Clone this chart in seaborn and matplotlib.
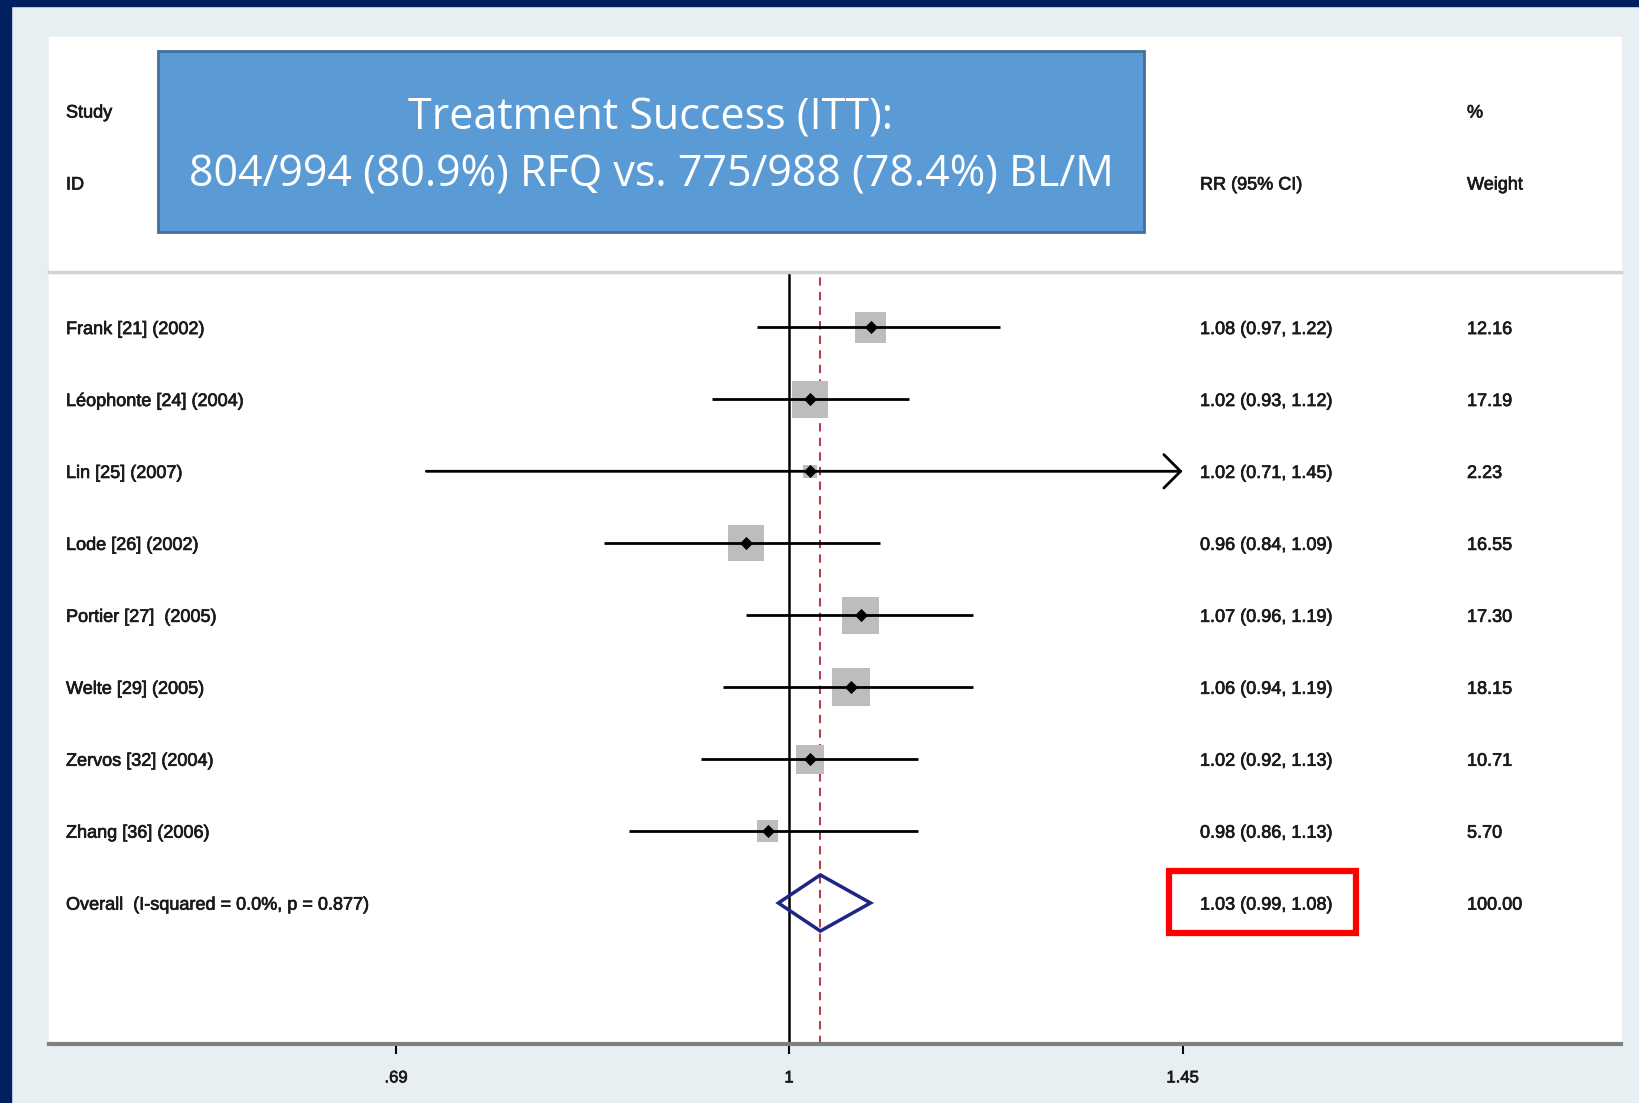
import numpy as np
import pandas as pd
import matplotlib
matplotlib.use("Agg")
import matplotlib.pyplot as plt
import matplotlib.patheffects as pe
import seaborn as sns
from matplotlib.patches import Rectangle, Polygon
from matplotlib.ticker import NullLocator
from matplotlib.transforms import blended_transform_factory

# ---- data -------------------------------------------------------------
studies = ["Frank [21] (2002)", "Léophonte [24] (2004)", "Lin [25] (2007)",
           "Lode [26] (2002)", "Portier [27]  (2005)", "Welte [29] (2005)",
           "Zervos [32] (2004)", "Zhang [36] (2006)"]
rr = [1.08, 1.02, 1.02, 0.96, 1.07, 1.06, 1.02, 0.98]
ci_low = [0.97, 0.93, 0.71, 0.84, 0.96, 0.94, 0.92, 0.86]
ci_high = [1.22, 1.12, 1.45, 1.09, 1.19, 1.19, 1.13, 1.13]
weights = [12.16, 17.19, 2.23, 16.55, 17.30, 18.15, 10.71, 5.70]

overall_label = "Overall  (I-squared = 0.0%, p = 0.877)"
overall_rr = 1.03
overall_low = 0.99
overall_high = 1.08
overall_weight = 100.00

xticks = [0.69, 1, 1.45]
xtick_labels = [".69", "1", "1.45"]

title_lines = ["Treatment Success (ITT):",
               "804/994 (80.9%) RFQ vs. 775/988 (78.4%) BL/M"]

# ---- style ------------------------------------------------------------
sns.set_style("white")
plt.rcParams["font.family"] = ["Liberation Sans", "DejaVu Sans"]

W, H = 1640, 1103
fig = plt.figure(figsize=(W / 100, H / 100), dpi=100)
fig.patch.set_facecolor("#E8EFF2")


def fx(px):
    return px / W


def fy(py):
    return 1 - py / H


# slide frame and white plotting panel
fig.add_artist(Rectangle((0, 0), fx(11), 1, transform=fig.transFigure,
                         color="#002060", zorder=0))
fig.add_artist(Rectangle((0, fy(6)), 1, 6 / H, transform=fig.transFigure,
                         color="#002060", zorder=0))
fig.add_artist(Rectangle((fx(49), fy(1044)), fx(1621) - fx(49), (1044 - 37) / H,
                         transform=fig.transFigure, color="white", zorder=0))

# ---- forest axes ------------------------------------------------------
ax = fig.add_axes([fx(49), fy(1044), fx(1621) - fx(49), (1044 - 272) / H])
ax.patch.set_visible(False)
ax.set_xscale("log")
ax.set_xlim(0.4972, 2.1937)
ax.set_ylim(9.96, -0.77)

df = pd.DataFrame({"study": studies, "rr": rr, "lo": ci_low, "hi": ci_high,
                   "weight": weights, "row": np.arange(len(studies))})
x_max = 1.45

# weight boxes (area proportional to weight)
k = 40.5
sns.scatterplot(data=df, x="rr", y="row", size="weight",
                sizes=(k * min(weights), k * max(weights)), marker="s",
                color="#BDBDBD", linewidth=0, legend=False, ax=ax, zorder=2)

# confidence intervals
for _, r in df.iterrows():
    if r["hi"] >= x_max:
        ax.annotate("", xy=(x_max, r["row"]), xytext=(r["lo"], r["row"]),
                    arrowprops=dict(arrowstyle="->,head_length=0.6,head_width=0.6",
                                    lw=2, color="black", shrinkA=0, shrinkB=0,
                                    mutation_scale=20), zorder=3)
    else:
        ax.hlines(r["row"], r["lo"], r["hi"], color="black", lw=2, zorder=3)

# point estimates
sns.scatterplot(data=df, x="rr", y="row", marker="D", color="black", s=45,
                linewidth=0, legend=False, ax=ax, zorder=4)

# reference lines
ax.axvline(1, color="black", lw=1.8, zorder=1)
ax.axvline(overall_rr, color="#B5404A", lw=1.5, ls=(0, (4, 3)), zorder=1)

# pooled estimate diamond
orow = len(studies)
h = 0.39
ax.add_patch(Polygon([(overall_low, orow), (overall_rr, orow - h),
                      (overall_high, orow), (overall_rr, orow + h)],
                     closed=True, fill=False, edgecolor="#1F2586", lw=2.5, zorder=5))

# axes styling
for s in ["left", "right"]:
    ax.spines[s].set_visible(False)
ax.spines["top"].set_color("#D3D3D3")
ax.spines["top"].set_linewidth(2.5)
ax.spines["bottom"].set_color("#7F7F7F")
ax.spines["bottom"].set_linewidth(3)
ax.set_xticks(xticks)
ax.set_xticklabels(xtick_labels)
ax.xaxis.set_minor_locator(NullLocator())
ax.set_yticks([])
ax.tick_params(axis="x", direction="out", length=7, width=1.5, color="black",
               pad=12, labelsize=12, labelcolor="#1a1a1a", bottom=True)
ax.set_xlabel("")
ax.set_ylabel("")

# slightly heavier strokes for the small print
heavy = [pe.withStroke(linewidth=0.5, foreground="#1a1a1a")]
for lbl in ax.get_xticklabels():
    lbl.set_path_effects(heavy)

# ---- text columns -----------------------------------------------------
tcol = "#1a1a1a"
fs = 13
trans = blended_transform_factory(fig.transFigure, ax.transData)
kw = dict(transform=trans, ha="left", va="center", fontsize=fs, color=tcol,
          path_effects=heavy)
for i, r in df.iterrows():
    ax.text(fx(66), r["row"] + 0.03, r["study"], **kw)
    ax.text(fx(1200), r["row"] + 0.03,
            f"{r['rr']:.2f} ({r['lo']:.2f}, {r['hi']:.2f})", **kw)
    ax.text(fx(1467), r["row"] + 0.03, f"{r['weight']:.2f}", **kw)
ax.text(fx(66), orow + 0.03, overall_label, **kw)
ax.text(fx(1200), orow + 0.03,
        f"{overall_rr:.2f} ({overall_low:.2f}, {overall_high:.2f})", **kw)
ax.text(fx(1467), orow + 0.03, f"{overall_weight:.2f}", **kw)

# column headers
hkw = dict(ha="left", va="center", fontsize=fs, color=tcol, path_effects=heavy)
fig.text(fx(66), fy(113), "Study", **hkw)
fig.text(fx(66), fy(185), "ID", **hkw)
fig.text(fx(1200), fy(185), "RR (95% CI)", **hkw)
fig.text(fx(1467), fy(113), "%", **hkw)
fig.text(fx(1467), fy(185), "Weight", **hkw)

# highlight around the pooled estimate
fig.add_artist(Rectangle((fx(1169), fy(933)), fx(1356) - fx(1169), (933 - 871) / H,
                         transform=fig.transFigure, fill=False,
                         edgecolor="#FF0000", lw=4.5, zorder=6))

# title banner
fig.add_artist(Rectangle((fx(158), fy(232)), fx(1144) - fx(158), (232 - 51) / H,
                         transform=fig.transFigure, facecolor="#5B9BD5",
                         edgecolor="#41719C", lw=2, zorder=6))
for yy, line in zip([118, 175], title_lines):
    fig.text(fx(651), fy(yy), line, ha="center", va="center", fontsize=31,
             color="white", family=["Open Sans", "DejaVu Sans"], zorder=7)

fig.savefig("out.png", dpi=100, facecolor=fig.get_facecolor())
